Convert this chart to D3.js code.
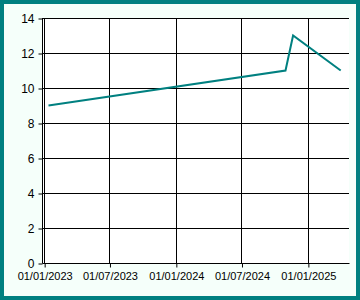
<!DOCTYPE html>
<html>
<head>
<meta charset="utf-8">
<script src="https://cdn.jsdelivr.net/npm/d3@7"></script>
<style>
  body { margin: 0; }
  svg { display: block; }
</style>
</head>
<body>
<div id="chart"></div>
<script>
// data
var dates = ['2023-01-13', '2024-10-31', '2024-11-21', '2025-04-02'];
var values = [9, 11, 13, 11];
var xTicks = ['2023-01-01', '2023-07-01', '2024-01-01', '2024-07-01', '2025-01-01'];
var yTicks = [0, 2, 4, 6, 8, 10, 12, 14];

var W = 360, H = 300;
var pLeft = 42, pRight = 349, pTop = 18, pBottom = 263;
var parse = d3.timeParse('%Y-%m-%d');
var fmt = d3.timeFormat('%d/%m/%Y');

var svg = d3.select('#chart').append('svg')
  .attr('width', W)
  .attr('height', H);

// background + teal frame
svg.append('rect')
  .attr('x', 2).attr('y', 2)
  .attr('width', W - 4).attr('height', H - 4)
  .attr('fill', '#f5fffa')
  .attr('stroke', '#008080')
  .attr('stroke-width', 4);

svg.append('rect')
  .attr('x', pLeft).attr('y', pTop)
  .attr('width', pRight - pLeft).attr('height', pBottom - pTop)
  .attr('fill', '#ffffff');

var x = d3.scaleTime()
  .domain([parse('2022-12-26'), parse('2025-04-25')])
  .range([pLeft, pRight]);
var y = d3.scaleLinear()
  .domain([0, 14])
  .range([pBottom, pTop]);

var font = '"Liberation Sans", Arial, sans-serif';

// grid
svg.append('g').selectAll('line')
  .data(yTicks.slice(1))
  .enter().append('line')
  .attr('x1', pLeft).attr('x2', pRight)
  .attr('y1', function (d) { return Math.round(y(d)) + 0.5; })
  .attr('y2', function (d) { return Math.round(y(d)) + 0.5; })
  .attr('stroke', '#000').attr('stroke-width', 1);

svg.append('g').selectAll('line')
  .data(xTicks)
  .enter().append('line')
  .attr('x1', function (d) { return Math.round(x(parse(d))) + 0.5; })
  .attr('x2', function (d) { return Math.round(x(parse(d))) + 0.5; })
  .attr('y1', pTop).attr('y2', pBottom)
  .attr('stroke', '#000').attr('stroke-width', 1);

// axes
var yAxis = svg.append('g')
  .attr('transform', 'translate(' + (pLeft + 0.5) + ',0.5)')
  .call(d3.axisLeft(y).tickValues(yTicks).tickSize(4).tickPadding(4));
var xAxis = svg.append('g')
  .attr('transform', 'translate(0.5,' + (pBottom + 0.5) + ')')
  .call(d3.axisBottom(x).tickValues(xTicks.map(parse)).tickFormat(fmt).tickSize(4).tickPadding(5));

[yAxis, xAxis].forEach(function (a) {
  a.select('.domain').attr('stroke', '#000');
  a.selectAll('.tick line').attr('stroke', '#000');
  a.selectAll('text').attr('fill', '#000').style('font-family', font);
});
yAxis.select('.domain').attr('d', 'M0,' + pTop + 'V' + pBottom);
xAxis.select('.domain').attr('d', 'M' + pLeft + ',0H' + pRight);
yAxis.selectAll('text').style('font-size', '12px');
xAxis.selectAll('text').style('font-size', '11px');

// series
var pts = dates.map(function (d, i) { return { date: parse(d), value: values[i] }; });
svg.append('path')
  .datum(pts)
  .attr('fill', 'none')
  .attr('stroke', '#008080')
  .attr('stroke-width', 2)
  .attr('d', d3.line()
    .x(function (d) { return x(d.date); })
    .y(function (d) { return y(d.value); }));
</script>
</body>
</html>
